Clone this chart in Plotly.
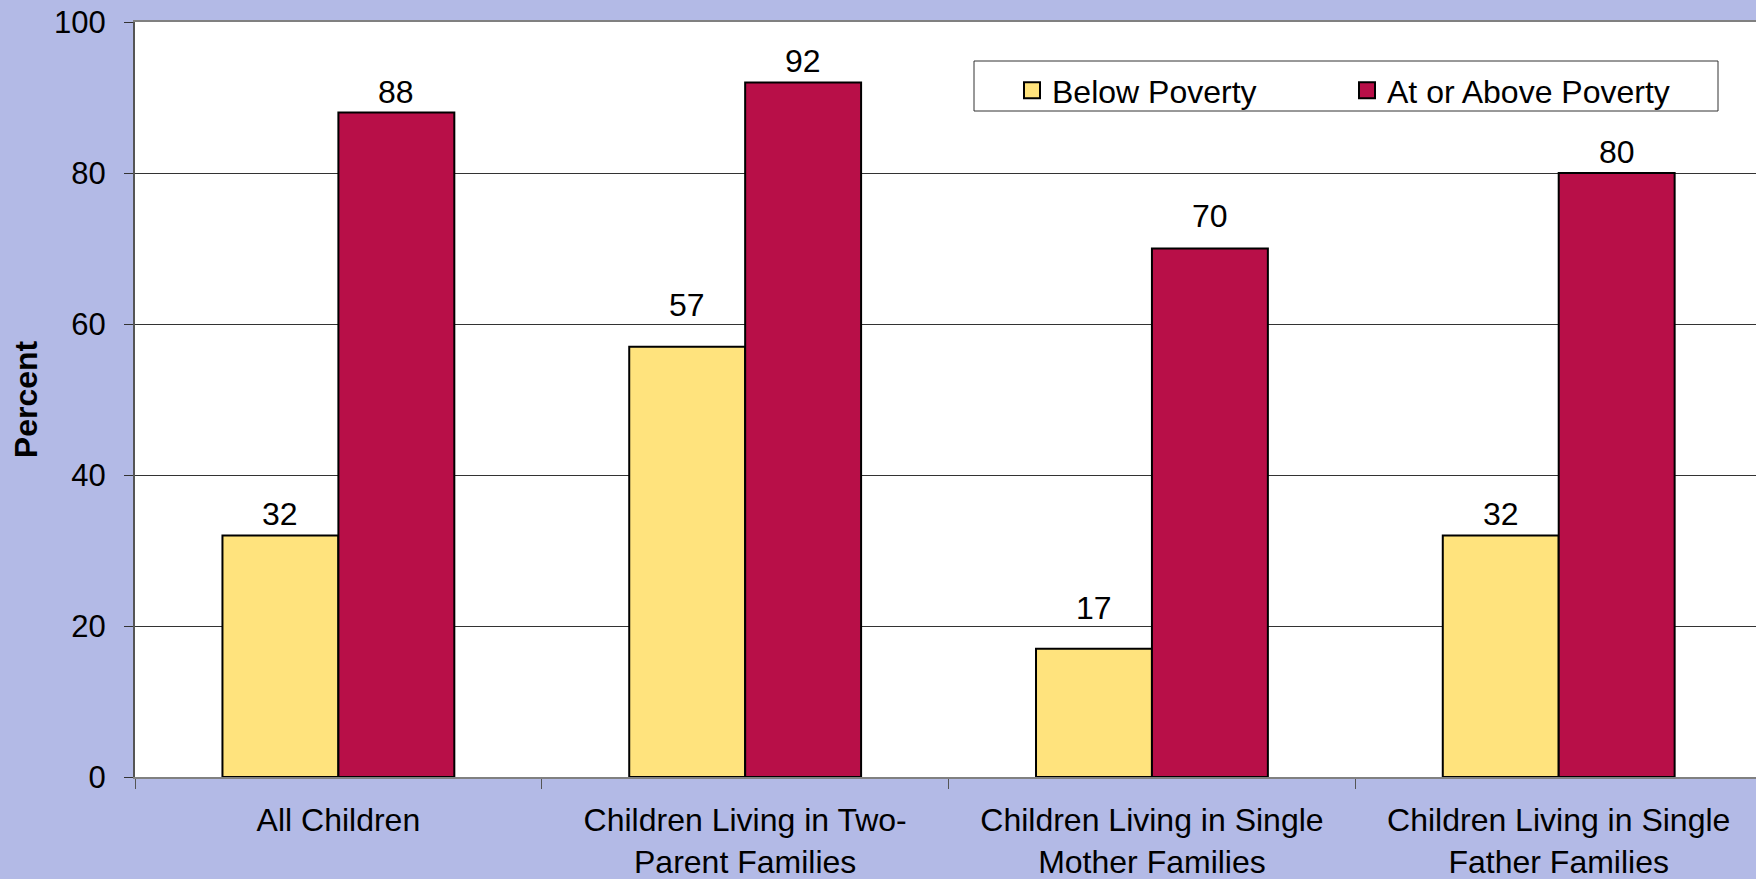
import plotly.graph_objects as go

categories = [
    "All Children",
    "Children Living in Two-<br>Parent Families",
    "Children Living in Single<br>Mother Families",
    "Children Living in Single<br>Father Families",
]
series_names = ["Below Poverty", "At or Above Poverty"]
below_poverty = [32, 57, 17, 32]
at_or_above_poverty = [88, 92, 70, 80]
y_ticks = [0, 20, 40, 60, 80, 100]

# extra upward nudge (px) of some value labels, as placed in the original
label_lift_below = [0, 21, 20, 0]
label_lift_above = [0, 0, 12, 0]

W, H = 1756, 879
ML, MR, MT, MB = 135, 0, 22, 102
FONT = "Liberation Sans, Arial, sans-serif"
COLORS = ["#FFE37D", "#B80F48"]
BARGAP = 0.43
XRANGE = [-0.5, 3.485]

fig = go.Figure()
for name, vals, col in zip(series_names, [below_poverty, at_or_above_poverty], COLORS):
    fig.add_trace(go.Bar(
        x=categories, y=vals, name=name, showlegend=False,
        marker=dict(color=col, line=dict(color="#000000", width=2)),
        cliponaxis=False,
    ))
# legend entries (square swatches like the original)
for name, col in zip(series_names, COLORS):
    fig.add_trace(go.Scatter(
        x=[None], y=[None], mode="markers", name=name, showlegend=True,
        marker=dict(symbol="square", size=16, color=col, line=dict(color="#000000", width=2)),
        hoverinfo="skip",
    ))

pw = W - ML - MR
ph = H - MT - MB
cat_px = pw / (XRANGE[1] - XRANGE[0])
bar_px = cat_px * (1 - BARGAP) / 2

def px_x(v):
    return (v - ML) / pw
def px_y(v):
    return (H - MB - v) / ph

# value labels above bars
for i, (vals, lifts) in enumerate([(below_poverty, label_lift_below), (at_or_above_poverty, label_lift_above)]):
    for cat, v, lift in zip(categories, vals, lifts):
        fig.add_annotation(
            x=cat, y=v, xref="x", yref="y", text=str(v), showarrow=False,
            xanchor="center", yanchor="bottom",
            xshift=(i - 0.5) * bar_px, yshift=1 + lift,
            font=dict(size=32, family=FONT, color="#000000"),
        )

fig.add_shape(type="rect", xref="paper", yref="paper",
              x0=px_x(974), x1=px_x(1718), y0=px_y(111), y1=px_y(61),
              fillcolor="#FFFFFF", line=dict(color="#333333", width=1), layer="above")

fig.update_layout(
    width=W, height=H,
    margin=dict(l=ML, r=MR, t=MT, b=MB, autoexpand=False),
    paper_bgcolor="#B3BAE6",
    plot_bgcolor="#FFFFFF",
    barmode="group",
    bargap=BARGAP,
    bargroupgap=0,
    font=dict(family=FONT, size=32, color="#000000"),
    showlegend=True,
    legend=dict(
        orientation="h", x=px_x(1012), y=px_y(63), xanchor="left", yanchor="top",
        bgcolor="rgba(0,0,0,0)", borderwidth=0,
        font=dict(size=32, family=FONT, color="#000000"),
        entrywidth=290, entrywidthmode="pixels",
        traceorder="normal",
    ),
    xaxis=dict(
        range=XRANGE,
        showline=True, linecolor="#808080", linewidth=2, mirror=True,
        ticks="outside", tickson="boundaries", ticklen=10, tickcolor="#555555",
        tickfont=dict(size=32, family=FONT, color="#000000"),
        ticklabelstandoff=14,
        showgrid=False, zeroline=False,
    ),
    yaxis=dict(
        range=[0, 100], tickvals=y_ticks,
        showline=True, linecolor="#555555", linewidth=2,
        ticks="outside", ticklen=9, tickcolor="#333333",
        tickfont=dict(size=31, family=FONT, color="#000000"),
        ticklabelstandoff=12,
        showgrid=True, gridcolor="#333333", gridwidth=1,
        zeroline=False,
        title=dict(text="<b>Percent</b>", font=dict(size=32, family=FONT, color="#000000"), standoff=7),
    ),
)

fig.write_html(
    "out.html",
    config={"displayModeBar": False},
    post_script="document.body.style.margin='0';document.body.style.padding='0';",
)
